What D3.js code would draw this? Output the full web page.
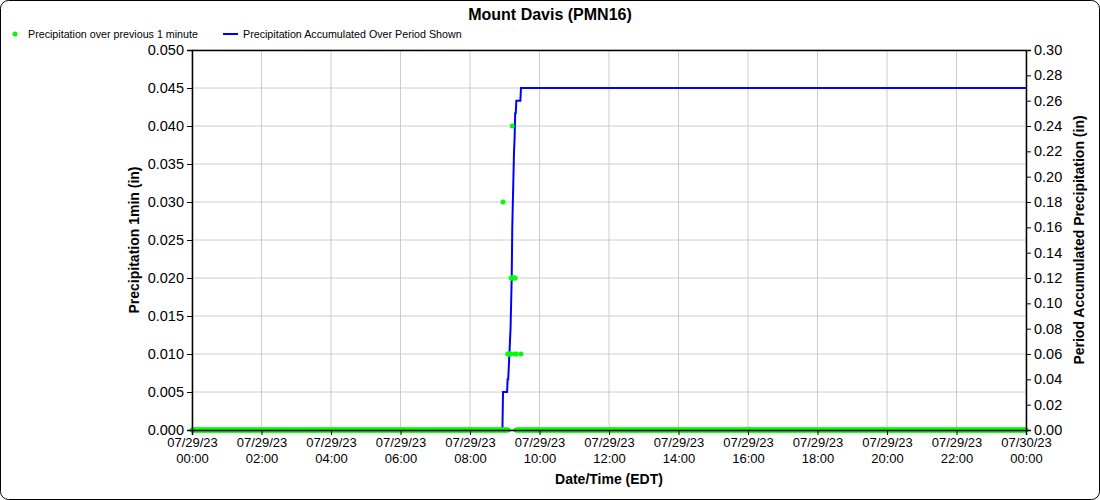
<!DOCTYPE html>
<html>
<head>
<meta charset="utf-8">
<script src="https://cdn.jsdelivr.net/npm/d3@7"></script>
<style>
  body { margin: 0; background: #fff; }
  svg { font-family: "Liberation Sans", Arial, sans-serif; }
</style>
</head>
<body>
<script>
var width  = 1100;
var height = 500;

// rain minutes (minutes after 07/29/23 00:00 EDT) and 1-minute amounts (in)
var rainMinutes = [537, 545, 547, 548, 549, 550, 551, 552, 553, 554, 555, 556, 557, 558, 560, 568];
var rainValues  = [0.03, 0.01, 0.01, 0.01, 0.01, 0.01, 0.02, 0.02, 0.04, 0.02, 0.02, 0.02, 0.01, 0.02, 0.01, 0.01];

var leftTicks  = [0, 0.005, 0.01, 0.015, 0.02, 0.025, 0.03, 0.035, 0.04, 0.045, 0.05];
var rightTicks = [0, 0.02, 0.04, 0.06, 0.08, 0.1, 0.12, 0.14, 0.16, 0.18, 0.2, 0.22, 0.24, 0.26, 0.28, 0.3];
var hourTicks  = [0, 2, 4, 6, 8, 10, 12, 14, 16, 18, 20, 22, 24];

var start = new Date(2023, 6, 29, 0, 0);
var end   = new Date(2023, 6, 30, 0, 0);

// build the per-minute series and the running total
var minuteData = [];
var accData = [];
var total = 0;
for (var m = 0; m <= 1440; m++) {
  var i = rainMinutes.indexOf(m);
  var v = i >= 0 ? rainValues[i] : 0;
  total += v;
  var t = new Date(start.getTime() + m * 60000);
  minuteData.push({ t: t, v: v });
  accData.push({ t: t, v: total });
}

var margin = { left: 192, right: 1100 - 1026, top: 50, bottom: 500 - 430 };

var x = d3.scaleTime().domain([start, end]).range([margin.left, width - margin.right]);
var yL = d3.scaleLinear().domain([0, 0.05]).range([height - margin.bottom, margin.top]);
var yR = d3.scaleLinear().domain([0, 0.3]).range([height - margin.bottom, margin.top]);

var svg = d3.select('body').append('svg')
            .attr('width', width)
            .attr('height', height);

svg.append('rect')
   .attr('x', 0.5).attr('y', 0.5)
   .attr('width', width - 1).attr('height', height - 1)
   .attr('rx', 8)
   .attr('fill', '#fff').attr('stroke', '#000');

svg.append('text')
   .attr('x', 550).attr('y', 20)
   .attr('text-anchor', 'middle')
   .attr('font-size', 16).attr('font-weight', 'bold')
   .text('Mount Davis (PMN16)');

// legend
var legend = svg.append('g').attr('font-size', 10.7);
legend.append('circle').attr('cx', 15).attr('cy', 34).attr('r', 2.5).attr('fill', '#00ff00');
legend.append('text').attr('x', 28).attr('y', 38).text('Precipitation over previous 1 minute');
legend.append('line').attr('x1', 223).attr('x2', 238).attr('y1', 34).attr('y2', 34)
      .attr('stroke', '#0000ff').attr('stroke-width', 2);
legend.append('text').attr('x', 243).attr('y', 38).text('Precipitation Accumulated Over Period Shown');

var tickDates = hourTicks.map(function(h){ return new Date(start.getTime() + h * 3600000); });

// grid
svg.append('g').selectAll('line').data(tickDates).enter().append('line')
   .attr('x1', function(d){ return x(d); }).attr('x2', function(d){ return x(d); })
   .attr('y1', margin.top).attr('y2', height - margin.bottom)
   .attr('stroke', '#cccccc');
svg.append('g').selectAll('line').data(leftTicks).enter().append('line')
   .attr('x1', margin.left).attr('x2', width - margin.right)
   .attr('y1', function(d){ return yL(d); }).attr('y2', function(d){ return yL(d); })
   .attr('stroke', '#cccccc');

// frame top
svg.append('line')
   .attr('x1', margin.left).attr('x2', width - margin.right)
   .attr('y1', margin.top + 0.5).attr('y2', margin.top + 0.5)
   .attr('stroke', '#000').attr('stroke-width', 1.5);

// accumulated line
svg.append('path')
   .datum(accData)
   .attr('fill', 'none')
   .attr('stroke', '#0000ff')
   .attr('stroke-width', 2)
   .attr('d', d3.line().x(function(d){ return x(d.t); }).y(function(d){ return yR(d.v); }));

// 1-minute points
svg.append('g').selectAll('circle').data(minuteData).enter().append('circle')
   .attr('cx', function(d){ return x(d.t); })
   .attr('cy', function(d){ return yL(d.v); })
   .attr('r', 2.5)
   .attr('fill', '#00ff00');

// axes
var axisFont = function(g, size) {
  g.selectAll('text').attr('font-size', size).attr('fill', '#000')
   .attr('font-family', '"Liberation Sans", Arial, sans-serif');
  g.select('.domain').attr('stroke-width', 1.5);
};

svg.append('g')
   .attr('transform', 'translate(' + margin.left + ',0)')
   .call(d3.axisLeft(yL).tickValues(leftTicks).tickSize(5).tickPadding(3).tickFormat(d3.format('.3f')))
   .call(axisFont, 14.5);

svg.append('g')
   .attr('transform', 'translate(' + (width - margin.right) + ',0)')
   .call(d3.axisRight(yR).tickValues(rightTicks).tickSize(5).tickPadding(3).tickFormat(d3.format('.2f')))
   .call(axisFont, 14.5);

var xg = svg.append('g')
   .attr('transform', 'translate(0,' + (height - margin.bottom) + ')')
   .call(d3.axisBottom(x).tickValues(tickDates).tickSize(5).tickPadding(2).tickFormat(''));
xg.select('.domain').attr('stroke-width', 1.5);
xg.selectAll('.tick').append('text')
  .attr('fill', '#000').attr('font-size', 13).attr('text-anchor', 'middle')
  .each(function(d) {
    var t = d3.select(this);
    t.append('tspan').attr('x', 0).attr('y', 17).text(d3.timeFormat('%m/%d/%y')(d));
    t.append('tspan').attr('x', 0).attr('y', 33).text(d3.timeFormat('%H:%M')(d));
  });

// axis titles
svg.append('text')
   .attr('transform', 'translate(139,' + ((margin.top + height - margin.bottom) / 2) + ') rotate(-90)')
   .attr('text-anchor', 'middle').attr('font-size', 14).attr('font-weight', 'bold')
   .text('Precipitation 1min (in)');
svg.append('text')
   .attr('transform', 'translate(1084,' + ((margin.top + height - margin.bottom) / 2) + ') rotate(-90)')
   .attr('text-anchor', 'middle').attr('font-size', 14).attr('font-weight', 'bold')
   .text('Period Accumulated Precipitation (in)');
svg.append('text')
   .attr('x', (margin.left + width - margin.right) / 2).attr('y', 484)
   .attr('text-anchor', 'middle').attr('font-size', 14).attr('font-weight', 'bold')
   .text('Date/Time (EDT)');
</script>
</body>
</html>
